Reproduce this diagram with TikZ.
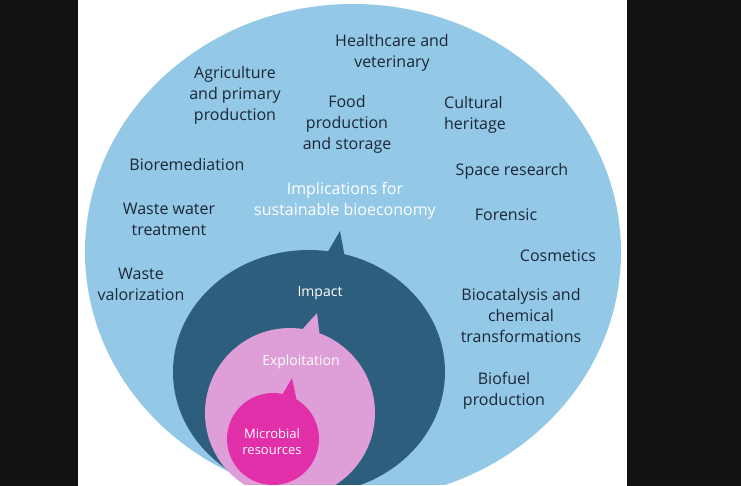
\documentclass[tikz,border=0pt]{standalone}
\usepackage{fontspec}
\setmainfont{Open Sans}
\usetikzlibrary{positioning}
\definecolor{barblack}{HTML}{111111}
\definecolor{skyblue}{HTML}{93C8E7}
\definecolor{deepblue}{HTML}{2E5E7D}
\definecolor{lilac}{HTML}{DE9ED8}
\definecolor{magentapink}{HTML}{E22FAA}
\definecolor{inktext}{HTML}{1C2636}
\begin{document}
\begin{tikzpicture}[x=1pt,y=-1pt,
  field/.style={text=inktext,align=center,font=\fontsize{16}{21}\selectfont},
  stage/.style={text=white,align=center,font=\fontsize{14}{18}\selectfont}]
\useasboundingbox (0,0) rectangle (741,486);
\fill[barblack] (0,0) rectangle (741,486);
\fill[white] (78,0) rectangle (627,486);
\begin{scope}
\clip (78,0) rectangle (627,484);
% nested circles, each with its speech-bubble tip
\fill[skyblue] (353,252) ellipse [x radius=268,y radius=248];
\fill[deepblue] (309,372) ellipse [x radius=136,y radius=122];
\fill[deepblue] plot coordinates{(326,255)(340,231)(345,258)} -- cycle;
\fill[lilac] (290,413) circle [radius=85];
\fill[lilac] plot coordinates{(299,333)(317,313)(320,338)} -- cycle;
\fill[magentapink] (273,439) circle [radius=46];
\fill[magentapink] plot coordinates{(281,397)(292,378)(297,402)} -- cycle;
\end{scope}
% application fields
\node[field] (health) at (392,53) {Healthcare and\\veterinary};
\node[field] (agri) at (235,95) {Agriculture\\and primary\\production};
\node[field] (food) at (347,124) {Food\\production\\and storage};
\node[field,align=left] (heritage) at (475,115) {Cultural\\heritage};
\node[field] (biorem) at (187,165) {Bioremediation};
\node[field] (space) at (512,171) {Space research};
\node[field] (wwater) at (169,219) {Waste water\\treatment};
\node[field] (forensic) at (506,215) {Forensic};
\node[field] (cosmetics) at (558,256) {Cosmetics};
\node[field] (wvalor) at (141,284) {Waste\\valorization};
\node[field] (biocat) at (521,315) {Biocatalysis and\\chemical\\transformations};
\node[field] (biofuel) at (504,391) {Biofuel\\production};
% stages
\node[stage,font=\fontsize{16}{21}\selectfont] (implic) at (345,201) {Implications for\\sustainable bioeconomy};
\node[stage] (impact) at (320,293) {Impact};
\node[stage] (exploit) at (301,362) {Exploitation};
\node[stage,font=\fontsize{13}{16}\selectfont] (microb) at (272,442) {Microbial\\resources};
\end{tikzpicture}
\end{document}
